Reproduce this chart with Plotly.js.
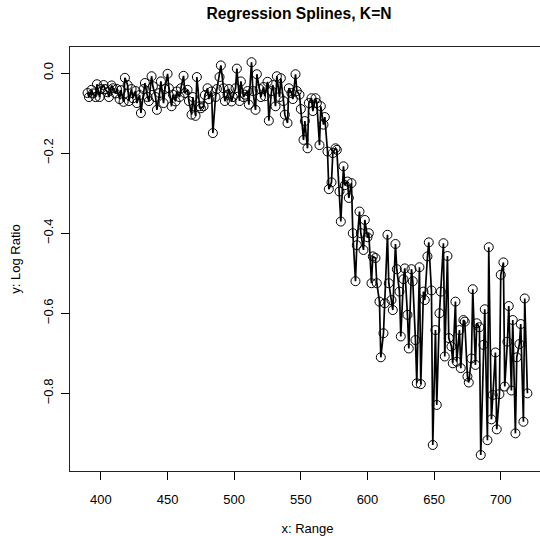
<!DOCTYPE html>
<html>
<head>
<meta charset="utf-8">
<script src="https://cdn.plot.ly/plotly-3.0.1.min.js"></script>
<style>
html,body{margin:0;padding:0;background:#fff;overflow:hidden;width:540px;height:536px;}
#plot{width:560px;height:536px;}
</style>
</head>
<body>
<div id="plot"></div>
<script>
// Range values (x)
const rangeX = [
390,391,393,394,396,397,399,400,402,403,405,406,408,409,411,412,414,415,417,418,
420,421,423,424,426,427,429,430,432,433,435,436,438,439,441,442,444,445,447,448,
450,451,453,454,456,457,459,460,462,463,465,466,468,469,471,472,474,475,477,478,
480,481,483,484,486,487,489,490,492,493,495,496,498,499,501,502,504,505,507,508,
510,511,513,514,516,517,519,520,522,523,525,526,528,529,531,532,534,535,537,538,
540,541,543,544,546,547,549,550,552,553,555,556,558,559,561,562,564,565,567,
568,570,571,573,574,576,577,579,580,582,583,585,586,588,589,591,592,594,595,597,
598,600,601,603,604,606,607,
609,610,612,613,615,616,618,619,621,622,624,625,627,628,630,631,633,634,636,637,
639,640,642,643,645,646,648,649,651,652,654,655,657,658,
660,661,663,664,666,667,669,670,672,673,675,676,678,679,681,682,684,685,687,688,
690,691,693,694,696,697,699,700,702,703,705,706,708,709,711,712,714,715,717,718,720
];
// Log ratio values (y)
const logRatio = [
-0.050,-0.060,-0.042,-0.051,-0.060,-0.028,-0.060,-0.040,-0.030,-0.040,
-0.048,-0.060,-0.031,-0.038,-0.051,-0.040,-0.065,-0.043,-0.072,-0.012,
-0.030,-0.070,-0.040,-0.063,-0.045,-0.075,-0.055,-0.100,-0.040,-0.025,
-0.060,-0.070,-0.008,-0.033,-0.060,-0.092,-0.050,-0.021,-0.075,-0.040,
-0.002,-0.038,-0.083,-0.054,-0.071,-0.046,-0.060,-0.038,-0.007,-0.050,
-0.042,-0.070,-0.104,-0.060,-0.107,-0.010,-0.083,-0.088,-0.083,-0.055,
-0.038,-0.065,-0.046,-0.150,-0.060,-0.040,-0.010,0.019,-0.038,-0.070,
-0.054,-0.040,-0.071,-0.060,-0.038,0.011,-0.070,-0.021,-0.060,-0.054,
-0.045,-0.079,0.027,-0.045,-0.092,-0.003,-0.040,-0.060,-0.035,-0.058,
-0.022,-0.119,-0.045,-0.030,-0.083,-0.008,-0.060,-0.013,-0.070,-0.104,
-0.125,-0.038,-0.050,-0.065,-0.003,-0.045,-0.054,-0.090,-0.167,-0.120,
-0.188,-0.075,-0.063,-0.095,-0.063,-0.075,-0.180,-0.083,-0.129,
-0.110,-0.196,-0.290,-0.273,-0.200,-0.188,-0.192,-0.296,-0.371,-0.233,
-0.280,-0.271,-0.312,-0.275,-0.400,-0.520,-0.430,-0.346,-0.400,-0.442,
-0.367,-0.410,-0.400,-0.525,-0.458,-0.462,-0.525,
-0.571,-0.710,-0.650,-0.575,-0.404,-0.525,-0.567,-0.592,-0.427,-0.490,
-0.546,-0.658,-0.515,-0.488,-0.604,-0.688,-0.490,-0.520,-0.667,-0.775,
-0.485,-0.777,-0.546,-0.567,-0.458,-0.423,-0.543,-0.929,-0.642,-0.829,
-0.600,-0.546,-0.425,-0.708,
-0.457,-0.662,-0.683,-0.725,-0.571,-0.721,-0.642,-0.737,-0.617,-0.621,
-0.758,-0.773,-0.713,-0.540,-0.729,-0.625,-0.635,-0.954,-0.679,-0.590,
-0.917,-0.435,-0.865,-0.804,-0.698,-0.890,-0.802,-0.504,-0.473,-0.783,
-0.671,-0.582,-0.793,-0.617,-0.900,-0.710,-0.677,-0.627,-0.871,-0.563,
-0.800
];
const xTicks = [400,450,500,550,600,650,700];
const yTicks = [0.0,-0.2,-0.4,-0.6,-0.8];
const yTickLabels = ["0.0","\u22120.2","\u22120.4","\u22120.6","\u22120.8"];

const FONT = "Liberation Sans, Arial, Helvetica, sans-serif";

const trace = {
  x: rangeX, y: logRatio,
  type: 'scatter', mode: 'lines+markers',
  line: {color: '#000', width: 1.7},
  marker: {symbol: 'circle-open', size: 9, color: '#000', line: {width: 1, color: '#000'}},
  hoverinfo: 'x+y'
};

const layout = {
  width: 560, height: 536,
  margin: {l: 70, r: 15, t: 47, b: 65, pad: 0},
  paper_bgcolor: '#fff', plot_bgcolor: '#fff',
  showlegend: false,
  font: {family: FONT, size: 13, color: '#000'},
  title: {
    text: '<b>Regression Splines, K=N</b>',
    font: {family: FONT, size: 15.6, color: '#000'},
    xref: 'container', yref: 'container',
    x: 299/560, xanchor: 'center', y: 1 - 14/536, yanchor: 'middle'
  },
  xaxis: {
    range: [376.8, 733.2],
    tickmode: 'array', tickvals: xTicks, ticktext: xTicks.map(String),
    ticks: 'outside', ticklen: 8, tickwidth: 1, tickcolor: '#000',
    ticklabelstandoff: 8,
    showline: true, mirror: true, linecolor: '#222', linewidth: 1,
    showgrid: false, zeroline: false,
    tickfont: {family: FONT, size: 13, color: '#000'},
    title: {text: 'x: Range', font: {family: FONT, size: 13, color: '#000'}, standoff: 21}
  },
  yaxis: {
    range: [-0.994, 0.065],
    tickmode: 'array', tickvals: yTicks, ticktext: yTickLabels,
    tickangle: -90,
    ticks: 'outside', ticklen: 8, tickwidth: 1, tickcolor: '#000',
    ticklabelstandoff: 3,
    showline: true, mirror: true, linecolor: '#222', linewidth: 1,
    showgrid: false, zeroline: false,
    tickfont: {family: FONT, size: 13, color: '#000'},
    title: {text: 'y: Log Ratio', font: {family: FONT, size: 13, color: '#000'}, standoff: 17}
  }
};

Plotly.newPlot('plot', [trace], layout, {displayModeBar: false, staticPlot: true});
</script>
</body>
</html>
